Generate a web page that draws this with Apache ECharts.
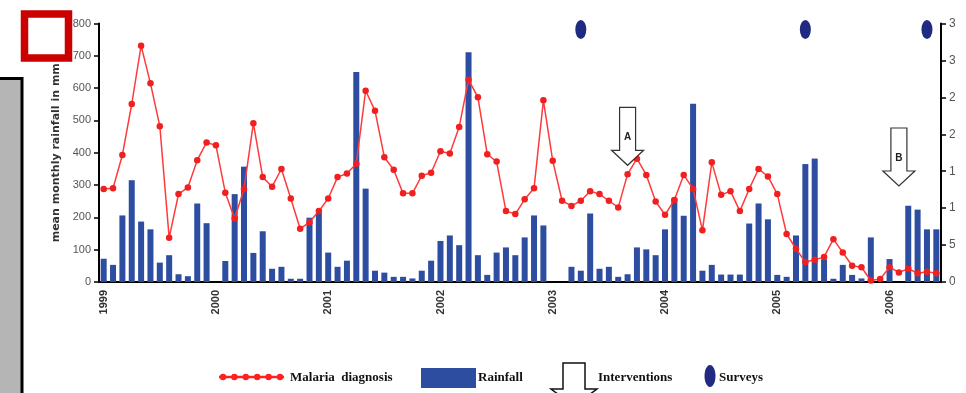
<!DOCTYPE html>
<html>
<head>
<meta charset="utf-8">
<script src="https://cdn.jsdelivr.net/npm/echarts@6/dist/echarts.min.js"></script>
<style>
html, body { margin: 0; padding: 0; background: #fff; overflow: hidden; }
#chart { width: 966px; height: 393px; }
</style>
</head>
<body>
<div id="chart"></div>
<script>
// years on the x axis, one category per month (Jan 1999 - Jun 2006)
var years = ['1999', '2000', '2001', '2002', '2003', '2004', '2005', '2006'];
var monthsInLastYear = 6;

// mean monthly rainfall in mm (left axis)
var rainfall = [
    72, 53, 206, 315, 187, 163, 60, 83, 24, 18, 243, 182,
    0, 65, 272, 357, 90, 157, 41, 47, 10, 10, 199, 214,
    91, 47, 66, 650, 289, 35, 29, 16, 16, 11, 35, 66,
    127, 144, 114, 711, 83, 22, 91, 107, 83, 138, 206, 175,
    0, 0, 47, 35, 212, 41, 47, 16, 24, 107, 101, 83,
    163, 259, 205, 552, 35, 53, 23, 23, 23, 181, 243, 194,
    22, 16, 144, 365, 382, 70, 10, 53, 22, 11, 138, 0,
    71, 0, 236, 224, 163, 163
];

// malaria diagnosis (right axis)
var malaria = [
    12.6, 12.7, 17.2, 24.1, 32.0, 26.9, 21.1, 6.0, 11.9, 12.8, 16.5, 18.9,
    18.5, 12.1, 8.6, 12.6, 21.5, 14.2, 12.9, 15.3, 11.3, 7.2, 8.1, 9.6,
    11.3, 14.2, 14.7, 16.0, 25.9, 23.2, 16.9, 15.2, 12.0, 12.0, 14.4, 14.8,
    17.7, 17.4, 21.0, 27.4, 25.0, 17.3, 16.3, 9.6, 9.2, 11.2, 12.7, 24.6,
    16.4, 11.0, 10.3, 11.0, 12.3, 11.9, 11.0, 10.1, 14.6, 16.7, 14.5, 10.9,
    9.1, 11.1, 14.5, 12.6, 7.0, 16.2, 11.8, 12.3, 9.6, 12.6, 15.3, 14.3,
    11.9, 6.5, 4.5, 2.7, 3.0, 3.4, 5.8, 4.0, 2.2, 2.0, 0.2, 0.4,
    2.0, 1.3, 1.8, 1.2, 1.4, 1.2
];

// surveys (month index) drawn near the top of the right axis
var surveyMonths = [51, 75, 88];
var surveyLevel = 34.2;

// interventions: month index, arrow tip level (right axis), label
var interventionMonths = [56, 85];
var interventionTips = [15.8, 13.0];
var interventionNames = ['A', 'B'];

var months = [];
years.forEach(function(y, k) {
    var n = k === years.length - 1 ? monthsInLastYear : 12;
    for (var m = 1; m <= n; m++) months.push(y + '-' + (m < 10 ? '0' + m : m));
});

var myChart = echarts.init(document.getElementById('chart'));
myChart.setOption({
    backgroundColor: '#fff',
    animation: false,
    grid: { left: 99, right: 25, top: 23.5, height: 258.5 },
    xAxis: {
        type: 'category',
        data: months,
        boundaryGap: true,
        axisLine: { lineStyle: { color: '#000', width: 2 } },
        axisTick: { interval: 0, length: 5, lineStyle: { color: '#000', width: 1.5 } },
        axisLabel: {
            interval: function(i) { return i % 12 === 0; },
            formatter: function(v) { return v.slice(0, 4); },
            rotate: 90,
            margin: 8,
            fontSize: 11,
            fontWeight: 'bold',
            fontFamily: 'Arial',
            color: '#333'
        }
    },
    yAxis: [{
        type: 'value',
        position: 'left',
        min: 0, max: 800, interval: 100,
        name: 'mean monthly rainfall in mm',
        nameLocation: 'middle',
        nameGap: 35,
        nameTextStyle: { fontSize: 11, fontWeight: 'bold', color: '#333', fontFamily: 'DejaVu Sans' },
        axisLine: { show: true, lineStyle: { color: '#000', width: 2 } },
        axisTick: { show: true, length: 5, lineStyle: { color: '#000', width: 1.5 } },
        splitLine: { show: false },
        axisLabel: { margin: 8, fontSize: 11, color: '#555', fontFamily: 'Arial' }
    }, {
        type: 'value',
        position: 'right',
        min: 0, max: 35, interval: 5,
        axisLine: { show: true, lineStyle: { color: '#000', width: 2 } },
        axisTick: { show: true, length: 5, lineStyle: { color: '#000', width: 1.5 } },
        splitLine: { show: false },
        axisLabel: { margin: 8, fontSize: 12, color: '#555', fontFamily: 'Arial' }
    }],
    series: [{
        name: 'Rainfall',
        type: 'bar',
        yAxisIndex: 0,
        barWidth: 6,
        itemStyle: { color: '#2d4ea0' },
        data: rainfall
    }, {
        name: 'Malaria diagnosis',
        type: 'line',
        yAxisIndex: 1,
        symbol: 'circle',
        symbolSize: 6.5,
        showAllSymbol: true,
        lineStyle: { color: '#ff3a3a', width: 1.5 },
        itemStyle: { color: '#f02020' },
        z: 3,
        data: malaria
    }, {
        name: 'Surveys',
        type: 'scatter',
        yAxisIndex: 1,
        symbol: 'circle',
        symbolSize: [11, 19],
        itemStyle: { color: '#1f2a80', opacity: 1 },
        data: surveyMonths.map(function(m) { return [m, surveyLevel]; })
    }]
});

// arrows for interventions, placed through the chart's own scales
var graphics = [];
interventionMonths.forEach(function(m, k) {
    var p = myChart.convertToPixel({ xAxisIndex: 0, yAxisIndex: 1 }, [m, interventionTips[k]]);
    var cx = p[0], ty = p[1];
    graphics.push({
        type: 'polygon', z: 20,
        shape: { points: [[cx - 8, ty - 58], [cx + 8, ty - 58], [cx + 8, ty - 15], [cx + 16, ty - 15],
                          [cx, ty], [cx - 16, ty - 15], [cx - 8, ty - 15]] },
        style: { fill: '#fff', stroke: '#333', lineWidth: 1.2 }
    });
    graphics.push({
        type: 'text', z: 21,
        style: { text: interventionNames[k], x: cx, y: ty - 28, align: 'center', verticalAlign: 'middle',
                 font: 'bold 10px Arial', fill: '#222' }
    });
});

// legend at the bottom
var legendFont = 'bold 13px "Liberation Serif"';
graphics.push({ type: 'line', z: 20, shape: { x1: 219, y1: 377, x2: 284, y2: 377 },
                style: { stroke: '#ff2020', lineWidth: 2.5 } });
for (var d = 0; d < 6; d++) {
    graphics.push({ type: 'circle', z: 21, shape: { cx: 223 + d * 11.4, cy: 377, r: 3.2 },
                    style: { fill: '#ff2020' } });
}
graphics.push({ type: 'text', z: 20, style: { text: 'Malaria  diagnosis', x: 290, y: 378, verticalAlign: 'middle', font: legendFont, fill: '#111' } });
graphics.push({ type: 'rect', z: 20, shape: { x: 421, y: 368, width: 55, height: 20 }, style: { fill: '#2d4ea0' } });
graphics.push({ type: 'text', z: 20, style: { text: 'Rainfall', x: 478, y: 378, verticalAlign: 'middle', font: legendFont, fill: '#111' } });
graphics.push({ type: 'polygon', z: 20,
                shape: { points: [[563, 363], [585, 363], [585, 389], [597, 389], [574, 406], [551, 389], [563, 389]] },
                style: { fill: '#fff', stroke: '#111', lineWidth: 1.5 } });
graphics.push({ type: 'text', z: 20, style: { text: 'Interventions', x: 598, y: 378, verticalAlign: 'middle', font: legendFont, fill: '#111' } });
graphics.push({ type: 'ellipse', z: 20, shape: { cx: 710, cy: 376, rx: 5.5, ry: 11 }, style: { fill: '#1f2a80' } });
graphics.push({ type: 'text', z: 20, style: { text: 'Surveys', x: 719, y: 378, verticalAlign: 'middle', font: legendFont, fill: '#111' } });

// frame pieces on the left and the cropped right edge
graphics.push({ type: 'rect', z: 30, shape: { x: -3, y: 78.5, width: 25, height: 330 },
                style: { fill: '#b5b5b5', stroke: '#000', lineWidth: 3 } });
graphics.push({ type: 'rect', z: 30, shape: { x: 24.5, y: 14, width: 44, height: 44 },
                style: { fill: '#fff', stroke: '#cc0000', lineWidth: 7.5 } });
graphics.push({ type: 'rect', z: 30, shape: { x: 955, y: 0, width: 20, height: 393 },
                style: { fill: '#fff' } });

myChart.setOption({ graphic: graphics });
</script>
</body>
</html>
